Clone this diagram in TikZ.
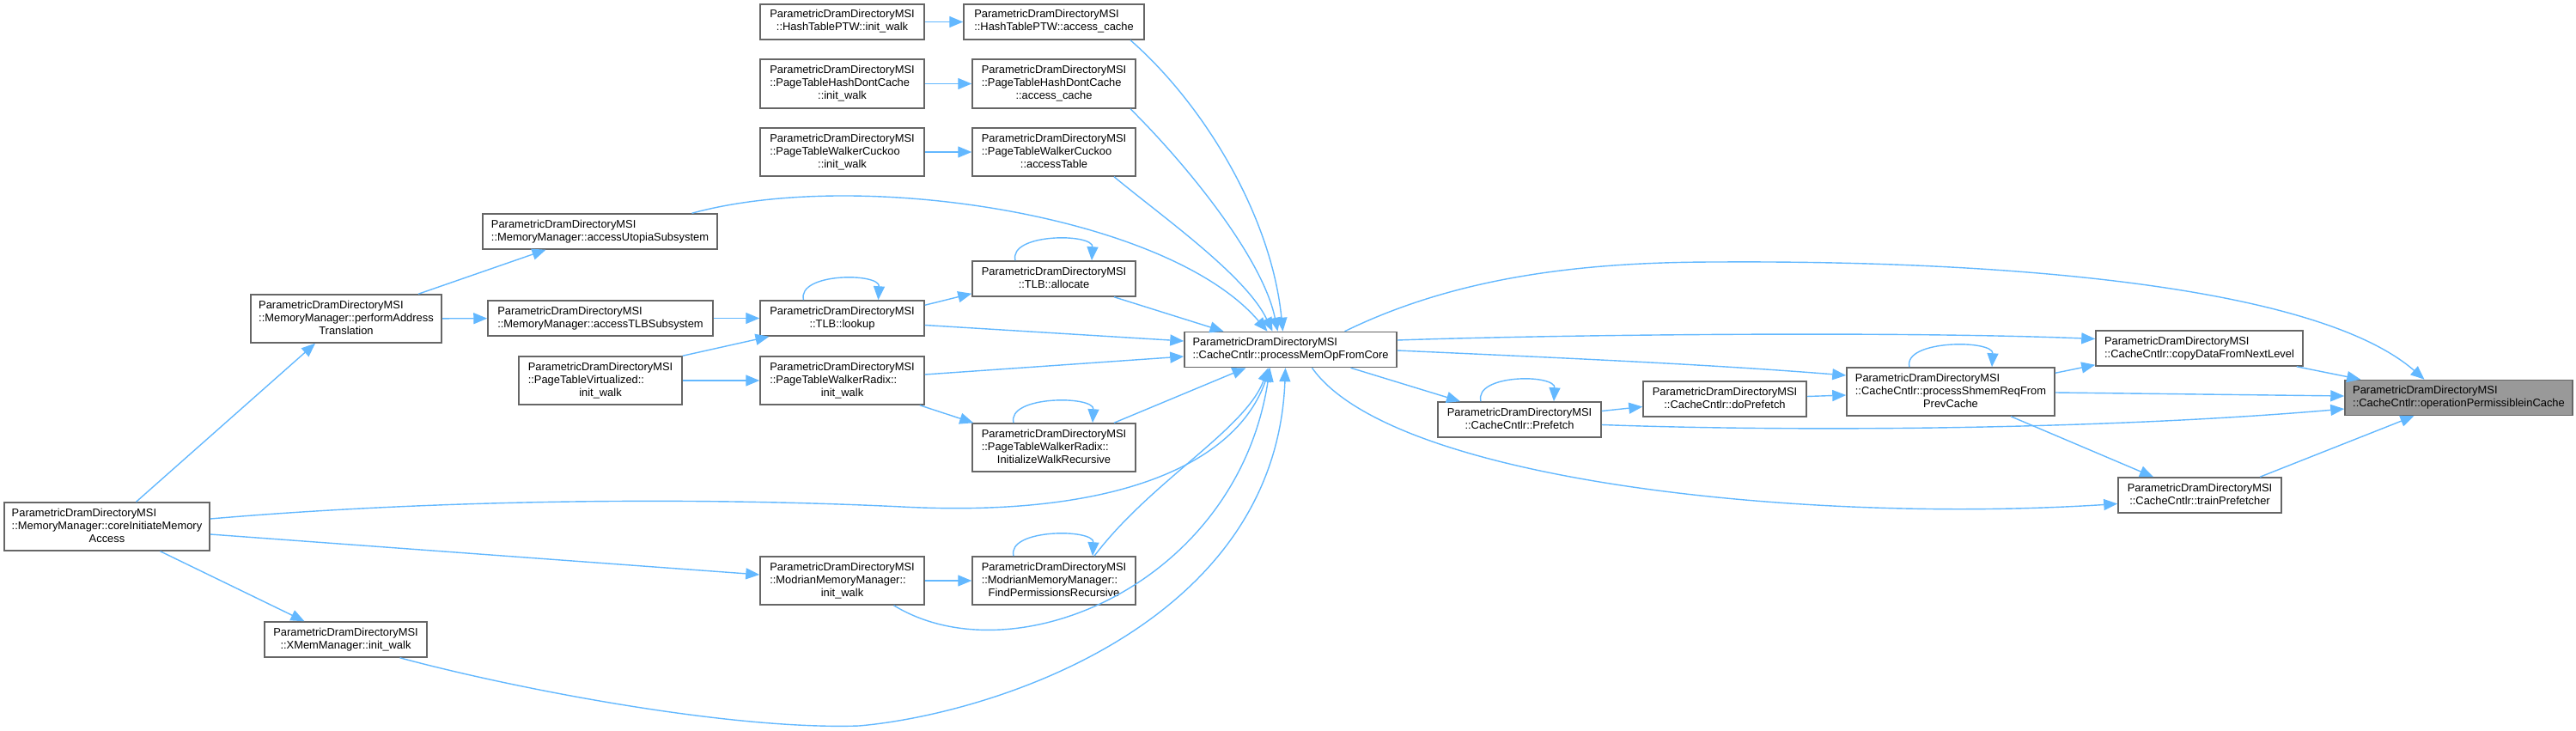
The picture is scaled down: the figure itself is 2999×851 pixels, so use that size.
\documentclass[tikz,border=0pt]{standalone}
\usepackage{fontspec}
\usepackage{tikz}
\usetikzlibrary{arrows.meta}
\newfontfamily\dxfont{Liberation Sans}
\definecolor{edgeblue}{HTML}{63B8FF}
\definecolor{boxgray}{HTML}{666666}
\definecolor{curgray}{HTML}{999999}
\newcommand{\fntext}[2]{\begin{tabular}{@{}l@{}}#1\\\multicolumn{1}{@{}c@{}}{#2}\end{tabular}}
\tikzset{
  fn/.style={draw=boxgray, line width=1.5pt, fill=white, inner sep=0pt, font=\dxfont\fontsize{12.9}{15}\selectfont},
  curfn/.style={fn, fill=curgray},
  call/.style={draw=edgeblue, line width=1.4pt, -{Triangle[length=16pt,width=13pt]}}
}

\begin{document}
\begin{tikzpicture}[x=1pt, y=-1pt]
\useasboundingbox (0,0) rectangle (2999,851);

% Page table walkers (top)
\node[fn, minimum width=191pt, minimum height=41pt] (htinit) at (980.5,25.5) {\fntext{ParametricDramDirectoryMSI}{::HashTablePTW::init\_walk}};
\node[fn, minimum width=210pt, minimum height=41pt] (htacc) at (1227,25.5) {\fntext{ParametricDramDirectoryMSI}{::HashTablePTW::access\_cache}};
\node[fn, minimum width=191pt, minimum height=57pt] (phinit) at (980.5,97.5) {\fntext{ParametricDramDirectoryMSI\\::PageTableHashDontCache}{::init\_walk}};
\node[fn, minimum width=190pt, minimum height=57pt] (phacc) at (1227,97.5) {\fntext{ParametricDramDirectoryMSI\\::PageTableHashDontCache}{::access\_cache}};
\node[fn, minimum width=191pt, minimum height=56pt] (pcinit) at (980.5,177) {\fntext{ParametricDramDirectoryMSI\\::PageTableWalkerCuckoo}{::init\_walk}};
\node[fn, minimum width=190pt, minimum height=56pt] (pcacc) at (1227,177) {\fntext{ParametricDramDirectoryMSI\\::PageTableWalkerCuckoo}{::accessTable}};

% Memory manager and TLB
\node[fn, minimum width=273pt, minimum height=41pt] (utopia) at (698.5,269.5) {\fntext{ParametricDramDirectoryMSI}{::MemoryManager::accessUtopiaSubsystem}};
\node[fn, minimum width=190pt, minimum height=41pt] (alloc) at (1227,324.5) {\fntext{ParametricDramDirectoryMSI}{::TLB::allocate}};
\node[fn, minimum width=222pt, minimum height=56pt] (perf) at (403,371) {\fntext{ParametricDramDirectoryMSI\\::MemoryManager::performAddress}{Translation}};
\node[fn, minimum width=262pt, minimum height=41pt] (tlbsub) at (699,370.5) {\fntext{ParametricDramDirectoryMSI}{::MemoryManager::accessTLBSubsystem}};
\node[fn, minimum width=191pt, minimum height=41pt] (lookup) at (980.5,370.5) {\fntext{ParametricDramDirectoryMSI}{::TLB::lookup}};
\node[fn, minimum width=190pt, minimum height=56pt] (ptvirt) at (699,443) {\fntext{ParametricDramDirectoryMSI\\::PageTableVirtualized::}{init\_walk}};
\node[fn, minimum width=191pt, minimum height=56pt] (radinit) at (980.5,443) {\fntext{ParametricDramDirectoryMSI\\::PageTableWalkerRadix::}{init\_walk}};
\node[fn, minimum width=190pt, minimum height=56pt] (initrec) at (1227,521) {\fntext{ParametricDramDirectoryMSI\\::PageTableWalkerRadix::}{InitializeWalkRecursive}};
\node[fn, minimum width=239pt, minimum height=56pt] (core) at (124.5,613) {\fntext{ParametricDramDirectoryMSI\\::MemoryManager::coreInitiateMemory}{Access}};
\node[fn, minimum width=191pt, minimum height=56pt] (modinit) at (980.5,676) {\fntext{ParametricDramDirectoryMSI\\::ModrianMemoryManager::}{init\_walk}};
\node[fn, minimum width=190pt, minimum height=56pt] (findperm) at (1227,676) {\fntext{ParametricDramDirectoryMSI\\::ModrianMemoryManager::}{FindPermissionsRecursive}};
\node[fn, minimum width=189pt, minimum height=41pt] (xmem) at (402.5,744.5) {\fntext{ParametricDramDirectoryMSI}{::XMemManager::init\_walk}};

% Cache controller
\node[fn, minimum width=247pt, minimum height=41pt] (pmop) at (1502.5,407) {\fntext{ParametricDramDirectoryMSI}{::CacheCntlr::processMemOpFromCore}};
\node[fn, minimum width=190pt, minimum height=41pt] (prefetch) at (1769,488.5) {\fntext{ParametricDramDirectoryMSI}{::CacheCntlr::Prefetch}};
\node[fn, minimum width=190pt, minimum height=41pt] (doprefetch) at (2008,464.5) {\fntext{ParametricDramDirectoryMSI}{::CacheCntlr::doPrefetch}};
\node[fn, minimum width=242pt, minimum height=56pt] (shmem) at (2271,456) {\fntext{ParametricDramDirectoryMSI\\::CacheCntlr::processShmemReqFrom}{PrevCache}};
\node[fn, minimum width=241pt, minimum height=41pt] (copy) at (2560.5,405.5) {\fntext{ParametricDramDirectoryMSI}{::CacheCntlr::copyDataFromNextLevel}};
\node[fn, minimum width=190pt, minimum height=41pt] (trainpf) at (2561,576.5) {\fntext{ParametricDramDirectoryMSI}{::CacheCntlr::trainPrefetcher}};
\node[curfn, minimum width=265pt, minimum height=41pt] (oper) at (2862.5,463) {\fntext{ParametricDramDirectoryMSI}{::CacheCntlr::operationPermissibleinCache}};

% Calls into the walkers
\draw[call] (htinit) -- (htacc);
\draw[call] (phinit) -- (phacc);
\draw[call] (pcinit) -- (pcacc);
\draw[call] ([xshift=89pt]htacc.south) .. controls (1400,120) and (1480,250) .. ([xshift=-9pt]pmop.north);
\draw[call] ([xshift=89pt]phacc.south) .. controls (1380,190) and (1470,300) .. ([xshift=-15pt]pmop.north);
\draw[call] ([xshift=70pt]pcacc.south) .. controls (1350,250) and (1450,320) .. ([xshift=-21pt]pmop.north);
\draw[call] ([xshift=107pt]utopia.north) .. controls (1000,195) and (1360,250) .. ([xshift=-27pt]pmop.north);

% TLB calls
\draw[call] ([xshift=70pt]alloc.south) -- ([xshift=-78pt]pmop.north);
\draw[call] ([xshift=-45pt]alloc.north) .. controls +(-8,-32) and +(2,-32) .. ([xshift=44pt]alloc.north);
\draw[call] ([yshift=-6pt]lookup.north east) -- ([yshift=4pt]alloc.south west);
\draw[call] ([yshift=-8pt]lookup.east) -- ([yshift=10pt]pmop.west);
\draw[call] ([xshift=-45pt]lookup.north) .. controls +(-8,-32) and +(2,-32) .. ([xshift=42pt]lookup.north);
\draw[call] (tlbsub) -- (lookup);
\draw[call] ([xshift=84pt]perf.north) -- ([xshift=-63pt]utopia.south);
\draw[call] (perf) -- (tlbsub);
\draw[call] (ptvirt.north east) -- ([xshift=-85pt]lookup.south);
\draw[call] (ptvirt) -- (radinit);
\draw[call] ([yshift=7pt]radinit.east) -- ([yshift=-8pt]pmop.west);
\draw[call] ([xshift=-6pt]radinit.south east) -- ([xshift=2pt]initrec.north west);
\draw[call] ([xshift=70pt]initrec.north) -- ([xshift=-52pt]pmop.south);
\draw[call] ([xshift=-47pt]initrec.north) .. controls +(-8,-32) and +(2,-32) .. ([xshift=45pt]initrec.north);

% Memory access entry
\draw[call] ([xshift=34pt]core.north) -- ([xshift=-36pt]perf.south);
\draw[call] ([yshift=9pt]core.east) .. controls (500,582) and (800,578) .. (1050,590)
  .. controls (1300,603) and (1440,540) .. ([xshift=-24pt]pmop.south);
\draw[call] ([yshift=-9pt]core.east) -- ([yshift=7pt]modinit.west);
\draw[call] ([xshift=62pt]core.south) -- ([xshift=-48pt]xmem.north);
\draw[call] (modinit) -- (findperm);
\draw[call] ([xshift=60pt]modinit.south) .. controls (1180,790) and (1440,680) .. ([xshift=-24pt]pmop.south);
\draw[call] ([xshift=47pt]findperm.north) .. controls (1340,560) and (1450,500) .. ([xshift=-26pt]pmop.south);
\draw[call] ([xshift=-47pt]findperm.north) .. controls +(-8,-32) and +(2,-32) .. ([xshift=45pt]findperm.north);
\draw[call] ([xshift=63pt]xmem.south) .. controls (600,802) and (850,850) .. (1000,845)
  .. controls (1150,832) and (1485,730) .. ([xshift=-6pt]pmop.south);

% Cache controller calls
\draw[call] ([xshift=63pt]pmop.north) .. controls (1700,320) and (1850,305) .. (2000,305)
  .. controls (2350,303) and (2700,335) .. ([xshift=-40pt]oper.north);
\draw[call] ([yshift=11pt]pmop.east) .. controls (1800,390) and (2200,385) .. ([yshift=11pt]copy.west);
\draw[call] ([yshift=-1pt]pmop.east) .. controls (1850,418) and (2000,425) .. ([yshift=19pt]shmem.west);
\draw[call] ([xshift=70pt]pmop.south) -- ([xshift=-69pt]prefetch.north);
\draw[call] ([xshift=25pt]pmop.south) .. controls (1620,560) and (2100,610) .. ([yshift=-10pt]trainpf.west);
\draw[call] ([xshift=-45pt]prefetch.north) .. controls +(-8,-32) and +(2,-32) .. ([xshift=40pt]prefetch.north);
\draw[call] ([yshift=10pt]prefetch.east) -- ([yshift=-9pt]doprefetch.west);
\draw[call] ([yshift=-6pt]prefetch.east) .. controls (2100,503) and (2450,500) .. ([yshift=-13pt]oper.west);
\draw[call] ([yshift=3pt]doprefetch.east) -- ([yshift=-4pt]shmem.west);
\draw[call] ([xshift=-48pt]shmem.north) .. controls +(-8,-32) and +(2,-32) .. ([xshift=48pt]shmem.north);
\draw[call] ([yshift=-7pt]shmem.north east) -- ([yshift=2pt]copy.south west);
\draw[call] ([yshift=-1pt]shmem.east) -- ([yshift=2pt]oper.west);
\draw[call] ([xshift=70pt]shmem.south) -- ([xshift=-54pt]trainpf.north);
\draw[call] ([xshift=-8pt]copy.south east) -- ([xshift=19pt]oper.north west);
\draw[call] ([xshift=70pt]trainpf.north) -- ([xshift=-52pt]oper.south);
\end{tikzpicture}
\end{document}
